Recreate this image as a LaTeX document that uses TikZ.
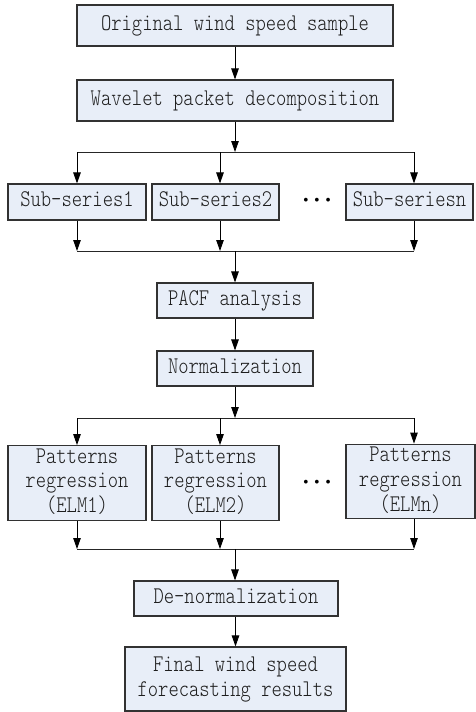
\documentclass[tikz,border=0pt]{standalone}
\usepackage{graphicx}
\usepackage{fontspec}
\setmonofont{Latin Modern Mono Light}
\usetikzlibrary{arrows.meta}
\definecolor{boxfill}{RGB}{232,238,248}
\definecolor{boxline}{RGB}{50,50,50}
\definecolor{txt}{RGB}{30,30,30}
\newcommand\tx[1]{\scalebox{1}[1.22]{\begin{tabular}{@{}c@{}}#1\end{tabular}}}
\newcommand\dotrow{\fontsize{14}{14}\selectfont\textbullet\hspace{0.5bp}\textbullet\hspace{0.5bp}\textbullet}
\begin{document}
\begin{tikzpicture}[x=1bp,y=-1bp,
  stepbox/.style={draw=boxline,fill=boxfill,line width=1.1bp,inner sep=0pt,
    align=center,text=txt,font=\ttfamily\fontsize{19.7}{20.5}\selectfont},
  arr/.style={draw=black,line width=0.9bp,-{Triangle[length=11bp,width=7.5bp]}},
  ln/.style={draw=black!85,line width=0.9bp}]
\useasboundingbox (0,0) rectangle (476,712);
\node[stepbox,minimum width=316bp,minimum height=41bp] (orig) at (235,25.5) {\tx{Original wind speed sample}};
\node[stepbox,minimum width=316bp,minimum height=41bp] (wpd) at (235,100.5) {\tx{Wavelet packet decomposition}};
\node[stepbox,minimum width=138bp,minimum height=36bp] (s1) at (77,202) {\tx{Sub-series1}};
\node[stepbox,minimum width=127bp,minimum height=36bp] (s2) at (215.5,202) {\tx{Sub-series2}};
\node[stepbox,minimum width=127bp,minimum height=36bp] (sn) at (409.5,202) {\tx{Sub-seriesn}};
\node[inner sep=0pt] (dots1) at (317,201) {\dotrow};
\node[stepbox,minimum width=156bp,minimum height=35bp] (pacf) at (235,300.5) {\tx{PACF analysis}};
\node[stepbox,minimum width=156bp,minimum height=35bp] (norm) at (235,368.5) {\tx{Normalization}};
\node[stepbox,minimum width=138bp,minimum height=68bp] (p1) at (77,483) {\tx{Patterns\\regression\\(ELM1)}};
\node[stepbox,minimum width=127bp,minimum height=68bp] (p2) at (215.5,483) {\tx{Patterns\\regression\\(ELM2)}};
\node[stepbox,minimum width=129bp,minimum height=67bp] (pn) at (410.5,481.5) {\tx{Patterns\\regression\\(ELMn)}};
\node[inner sep=0pt] (dots2) at (317,483) {\dotrow};
\node[stepbox,minimum width=204bp,minimum height=35bp] (denorm) at (236,598.5) {\tx{De-normalization}};
\node[stepbox,minimum width=221bp,minimum height=64bp] (final) at (235.5,679) {\tx{Final wind speed\\forecasting results}};
% branch coordinates
\coordinate (t1) at (235,152);
\coordinate (ta) at (77,152);
\coordinate (tb) at (220,152);
\coordinate (tc) at (414,152);
\coordinate (m1) at (235,251);
\coordinate (ma) at (77,251);
\coordinate (mb) at (220,251);
\coordinate (mc) at (414,251);
\coordinate (u1) at (235,418);
\coordinate (ua) at (77,418);
\coordinate (ub) at (220,418);
\coordinate (uc) at (414,418);
\coordinate (v1) at (235,549);
\coordinate (va) at (77,549);
\coordinate (vb) at (220,549);
\coordinate (vc) at (414,549);
% connectors
\draw[arr] (orig) -- (wpd);
\draw[arr] (wpd) -- (t1);
\draw[ln] (ta) -- (tc);
\draw[arr] (ta) -- (s1);
\draw[arr] (tb) -- (tb |- s2.north);
\draw[arr] (tc) -- (tc |- sn.north);
\draw[arr] (s1) -- (ma);
\draw[arr] (mb |- s2.south) -- (mb);
\draw[arr] (mc |- sn.south) -- (mc);
\draw[ln] (ma) -- (mc);
\draw[arr] (m1) -- (pacf);
\draw[arr] (pacf) -- (norm);
\draw[arr] (norm) -- (u1);
\draw[ln] (ua) -- (uc);
\draw[arr] (ua) -- (p1);
\draw[arr] (ub) -- (ub |- p2.north);
\draw[arr] (uc) -- (uc |- pn.north);
\draw[arr] (p1) -- (va);
\draw[arr] (vb |- p2.south) -- (vb);
\draw[arr] (vc |- pn.south) -- (vc);
\draw[ln] (va) -- (vc);
\draw[arr] (v1) -- (v1 |- denorm.north);
\draw[arr] (denorm.south -| final.north) -- (final.north);
\end{tikzpicture}
\end{document}
